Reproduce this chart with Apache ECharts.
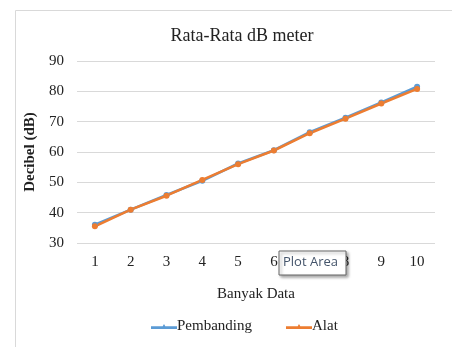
<!DOCTYPE html>
<html><head><meta charset="utf-8">
<script src="https://cdn.jsdelivr.net/npm/echarts@6/dist/echarts.min.js"></script>
<style>html,body{margin:0;padding:0;background:#fff}#c{width:452px;height:347px}</style>
</head><body><div id="c"></div>
<script>
var categories = ['1','2','3','4','5','6','7','8','9','10'];
var pembanding = [36, 41, 45.8, 50.5, 56.2, 60.6, 66.5, 71.3, 76.3, 81.5];
var alat = [35.5, 41, 45.6, 50.8, 56, 60.5, 66.2, 71, 76, 80.8];
var chart = echarts.init(document.getElementById('c'));
var serif = '"Liberation Serif","Times New Roman",serif';
var icon = 'path://M0,2.2L26,2.2L26,4.8L0,4.8Z M11,3.5L13,0L15,3.5Z';
chart.setOption({
  animation: false,
  title: {text: 'Rata-Rata dB meter', left: 237, top: 22, textAlign: 'center',
    textStyle: {fontFamily: serif, fontWeight: 'normal', fontSize: 18, color: '#222'}},
  grid: {left: 77, right: 17, top: 61, bottom: 104},
  legend: {top: 314, left: 146, itemGap: 34, itemWidth: 26, itemHeight: 7,
    textStyle: {fontFamily: serif, fontSize: 15, color: '#222', padding: [0,0,0,-5]},
    data: [{name: 'Pembanding', icon: icon}, {name: 'Alat', icon: icon}]},
  xAxis: {type: 'category', data: categories, boundaryGap: true,
    name: 'Banyak Data', nameLocation: 'middle', nameGap: 44,
    nameTextStyle: {fontFamily: serif, fontSize: 15, color: '#222'},
    axisLine: {show: false}, axisTick: {show: false},
    axisLabel: {fontFamily: serif, fontSize: 15, color: '#222', margin: 12}},
  yAxis: {type: 'value', min: 30, max: 90, interval: 10,
    name: 'Decibel (dB)', nameLocation: 'middle', nameGap: 37,
    nameTextStyle: {fontFamily: serif, fontSize: 15, color: '#222', fontWeight: 'bold'},
    axisLabel: {fontFamily: serif, fontSize: 15, color: '#222', margin: 13},
    splitLine: {lineStyle: {color: '#d9d9d9', width: 1}}},
  series: [
    {name: 'Pembanding', type: 'line', data: pembanding, symbol: 'circle', symbolSize: 6,
      color: '#5b9bd5', lineStyle: {width: 2.6, color: '#5b9bd5'}, itemStyle: {color: '#5b9bd5'}},
    {name: 'Alat', type: 'line', data: alat, symbol: 'circle', symbolSize: 6,
      color: '#ed7d31', lineStyle: {width: 2.6, color: '#ed7d31'}, itemStyle: {color: '#ed7d31'}}
  ],
  graphic: [
    {type: 'rect', shape: {x: 15.5, y: 10.5, width: 460, height: 360}, style: {fill: 'none', stroke: '#d9d9d9', lineWidth: 1}, silent: true},
    {type: 'rect', shape: {x: 279, y: 251, width: 67, height: 24}, style: {fill: '#fff', stroke: '#666', lineWidth: 1, shadowBlur: 3, shadowOffsetX: 2, shadowOffsetY: 2, shadowColor: 'rgba(0,0,0,0.35)'}, z: 100},
    {type: 'text', x: 283, y: 256, style: {text: 'Plot Area', font: '13px "Open Sans", sans-serif', fill: '#44546a'}, z: 101}
  ]
});
</script></body></html>
